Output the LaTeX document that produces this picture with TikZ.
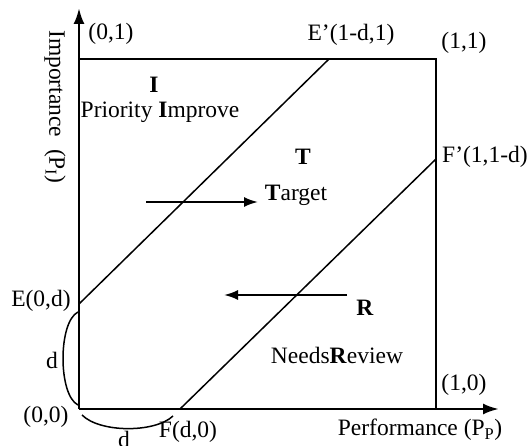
\documentclass[tikz,border=0pt]{standalone}
\usepackage{fontspec}
\setmainfont{Liberation Serif}
\usetikzlibrary{arrows.meta}
\begin{document}
\begin{tikzpicture}[x=1pt,y=-1pt,
  lbl/.style={inner sep=0pt,font=\fontsize{23.5}{27}\selectfont},
  axis/.style={line width=2.6pt,-{Latex[length=16pt,width=11pt]}},
  boxline/.style={line width=1.7pt},
  diag/.style={line width=1.5pt},
  flow/.style={line width=2pt,-{Latex[length=14pt,width=10pt]}},
  brace/.style={line width=1.5pt}]
\useasboundingbox (0,0) rectangle (528,446);
% key points
\coordinate (O) at (79,409);
\coordinate (Ytop) at (79,8);
\coordinate (Xend) at (499,409);
\coordinate (TL) at (79,59);
\coordinate (TR) at (436,59);
\coordinate (BR) at (436,409);
\coordinate (E) at (79,304);
\coordinate (Ep) at (329,59);
\coordinate (F) at (180,409);
\coordinate (Fp) at (436,159);
% box and axes
\draw[boxline] (TL) -- (TR) -- (BR);
\draw[diag] (E) -- (Ep);
\draw[diag] (F) -- (Fp);
\draw[axis] (O) -- (Xend);
\draw[axis] (O) -- (Ytop);
% braces
\coordinate (b1s) at (78,312);
\coordinate (b1e) at (78,405);
\draw[brace] (b1s) .. controls (58,322) and (58,395) .. (b1e);
\coordinate (b2s) at (82,415);
\coordinate (b2e) at (173,416);
\draw[brace] (b2s) .. controls (100,433) and (155,433) .. (b2e);
% flow arrows
\coordinate (r1) at (146,202);
\coordinate (r2) at (258,202);
\draw[flow] (r1) -- (r2);
\coordinate (l1) at (347,295);
\coordinate (l2) at (224,295);
\draw[flow] (l1) -- (l2);
% labels
\node[lbl] (n01) at (111,34) {(0,1)};
\node[lbl] (nEp) at (351,35) {E’(1-d,1)};
\node[lbl] (n11) at (464,43) {(1,1)};
\node[lbl,anchor=west] (nFp) at (442,157) {F’(1,1-d)};
\node[lbl] (nI) at (154,85) {\textbf{I}};
\node[lbl] (nPI) at (160,112) {Priority \textbf{I}mprove};
\node[lbl] (nT) at (303,157) {\textbf{T}};
\node[lbl] (nTg) at (296,195) {\textbf{T}arget};
\node[lbl] (nR) at (365,308) {\textbf{R}};
\node[lbl] (nNR) at (337,355) {Needs\textbf{R}eview};
\node[lbl] (n10) at (464,385) {(1,0)};
\node[lbl] (n00) at (46,417) {(0,0)};
\node[lbl] (nE) at (41,301) {E(0,d)};
\node[lbl] (nd1) at (52,360) {d};
\node[lbl] (nF) at (188,432) {F(d,0)};
\node[lbl] (nd2) at (124,439) {d};
\node[lbl] (nX) at (420,430) {Performance (P\textsubscript{P})};
\node[lbl,rotate=-90] (nY) at (55,107) {Importance~~(P\textsubscript{I})};
\end{tikzpicture}
\end{document}
